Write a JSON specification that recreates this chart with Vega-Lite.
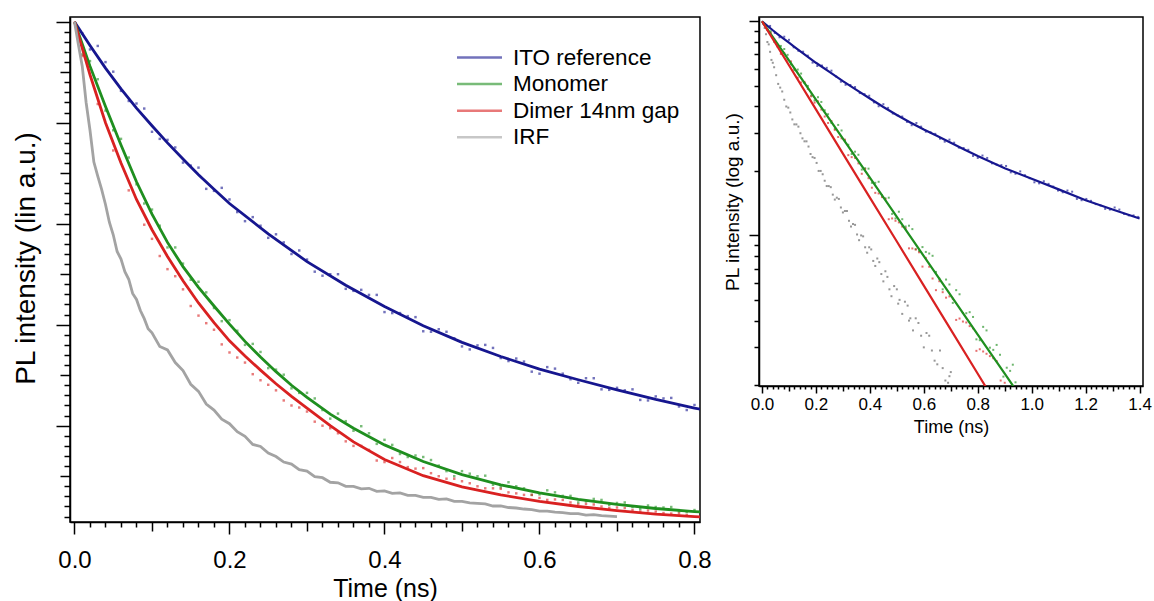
{
  "$schema": "https://vega.github.io/schema/vega-lite/v6.json",
  "padding": {"left": 11, "top": 16, "right": 5, "bottom": 0},
  "background": "white",
  "config": {
    "font": "Liberation Sans",
    "view": {"stroke": "#000", "strokeWidth": 1.5},
    "axis": {"domainColor": "#000", "domainWidth": 1.5, "tickColor": "#000", "tickWidth": 1.5, "labelColor": "#000", "titleColor": "#000", "grid": false, "labelFont": "Liberation Sans", "titleFont": "Liberation Sans", "titleFontWeight": "normal", "labelOverlap": false, "labelFlush": false, "labelBound": false}
  },
  "resolve": {"scale": {"color": "independent"}},
  "spacing": 10,
  "datasets": {
    "lin_fit": [
      {"series":"ITO reference","t":0,"y":1},{"series":"ITO reference","t":0.02,"y":0.953},{"series":"ITO reference","t":0.04,"y":0.908},{"series":"ITO reference","t":0.06,"y":0.867},{"series":"ITO reference","t":0.08,"y":0.829},{"series":"ITO reference","t":0.1,"y":0.794},{"series":"ITO reference","t":0.12,"y":0.76},{"series":"ITO reference","t":0.14,"y":0.728},{"series":"ITO reference","t":0.16,"y":0.697},{"series":"ITO reference","t":0.18,"y":0.668},{"series":"ITO reference","t":0.2,"y":0.64},{"series":"ITO reference","t":0.25,"y":0.58},{"series":"ITO reference","t":0.3,"y":0.525},{"series":"ITO reference","t":0.35,"y":0.478},{"series":"ITO reference","t":0.4,"y":0.436},{"series":"ITO reference","t":0.45,"y":0.398},{"series":"ITO reference","t":0.5,"y":0.365},{"series":"ITO reference","t":0.55,"y":0.337},{"series":"ITO reference","t":0.6,"y":0.312},{"series":"ITO reference","t":0.65,"y":0.291},{"series":"ITO reference","t":0.7,"y":0.271},{"series":"ITO reference","t":0.75,"y":0.252},{"series":"ITO reference","t":0.8,"y":0.235},{"series":"ITO reference","t":0.81,"y":0.232},
      {"series":"Monomer","t":0,"y":1},{"series":"Monomer","t":0.02,"y":0.912},{"series":"Monomer","t":0.04,"y":0.832},{"series":"Monomer","t":0.06,"y":0.756},{"series":"Monomer","t":0.08,"y":0.683},{"series":"Monomer","t":0.1,"y":0.619},{"series":"Monomer","t":0.12,"y":0.563},{"series":"Monomer","t":0.14,"y":0.515},{"series":"Monomer","t":0.16,"y":0.474},{"series":"Monomer","t":0.18,"y":0.437},{"series":"Monomer","t":0.2,"y":0.401},{"series":"Monomer","t":0.22,"y":0.367},{"series":"Monomer","t":0.24,"y":0.336},{"series":"Monomer","t":0.26,"y":0.307},{"series":"Monomer","t":0.28,"y":0.28},{"series":"Monomer","t":0.3,"y":0.256},{"series":"Monomer","t":0.33,"y":0.223},{"series":"Monomer","t":0.36,"y":0.195},{"series":"Monomer","t":0.4,"y":0.162},{"series":"Monomer","t":0.45,"y":0.129},{"series":"Monomer","t":0.5,"y":0.103},{"series":"Monomer","t":0.55,"y":0.083},{"series":"Monomer","t":0.6,"y":0.067},{"series":"Monomer","t":0.65,"y":0.054},{"series":"Monomer","t":0.7,"y":0.044},{"series":"Monomer","t":0.75,"y":0.036},{"series":"Monomer","t":0.8,"y":0.03},{"series":"Monomer","t":0.81,"y":0.029},
      {"series":"Dimer 14nm gap","t":0,"y":1},{"series":"Dimer 14nm gap","t":0.02,"y":0.895},{"series":"Dimer 14nm gap","t":0.04,"y":0.8},{"series":"Dimer 14nm gap","t":0.06,"y":0.72},{"series":"Dimer 14nm gap","t":0.08,"y":0.648},{"series":"Dimer 14nm gap","t":0.1,"y":0.588},{"series":"Dimer 14nm gap","t":0.12,"y":0.535},{"series":"Dimer 14nm gap","t":0.14,"y":0.487},{"series":"Dimer 14nm gap","t":0.16,"y":0.443},{"series":"Dimer 14nm gap","t":0.18,"y":0.404},{"series":"Dimer 14nm gap","t":0.2,"y":0.368},{"series":"Dimer 14nm gap","t":0.22,"y":0.338},{"series":"Dimer 14nm gap","t":0.24,"y":0.31},{"series":"Dimer 14nm gap","t":0.26,"y":0.283},{"series":"Dimer 14nm gap","t":0.28,"y":0.258},{"series":"Dimer 14nm gap","t":0.3,"y":0.235},{"series":"Dimer 14nm gap","t":0.33,"y":0.2},{"series":"Dimer 14nm gap","t":0.36,"y":0.168},{"series":"Dimer 14nm gap","t":0.4,"y":0.133},{"series":"Dimer 14nm gap","t":0.45,"y":0.101},{"series":"Dimer 14nm gap","t":0.5,"y":0.079},{"series":"Dimer 14nm gap","t":0.55,"y":0.063},{"series":"Dimer 14nm gap","t":0.6,"y":0.05},{"series":"Dimer 14nm gap","t":0.65,"y":0.04},{"series":"Dimer 14nm gap","t":0.7,"y":0.032},{"series":"Dimer 14nm gap","t":0.75,"y":0.025},{"series":"Dimer 14nm gap","t":0.8,"y":0.02},{"series":"Dimer 14nm gap","t":0.81,"y":0.019},
      {"series":"IRF","t":0,"y":1},{"series":"IRF","t":0.005,"y":0.955},{"series":"IRF","t":0.01,"y":0.912},{"series":"IRF","t":0.015,"y":0.84},{"series":"IRF","t":0.02,"y":0.785},{"series":"IRF","t":0.025,"y":0.722},{"series":"IRF","t":0.03,"y":0.694},{"series":"IRF","t":0.035,"y":0.668},{"series":"IRF","t":0.04,"y":0.638},{"series":"IRF","t":0.045,"y":0.603},{"series":"IRF","t":0.05,"y":0.578},{"series":"IRF","t":0.055,"y":0.545},{"series":"IRF","t":0.06,"y":0.53},{"series":"IRF","t":0.065,"y":0.505},{"series":"IRF","t":0.07,"y":0.49},{"series":"IRF","t":0.075,"y":0.462},{"series":"IRF","t":0.08,"y":0.45},{"series":"IRF","t":0.085,"y":0.428},{"series":"IRF","t":0.09,"y":0.412},{"series":"IRF","t":0.095,"y":0.392},{"series":"IRF","t":0.1,"y":0.384},{"series":"IRF","t":0.11,"y":0.357},{"series":"IRF","t":0.12,"y":0.35},{"series":"IRF","t":0.13,"y":0.325},{"series":"IRF","t":0.14,"y":0.309},{"series":"IRF","t":0.15,"y":0.282},{"series":"IRF","t":0.16,"y":0.268},{"series":"IRF","t":0.17,"y":0.243},{"series":"IRF","t":0.18,"y":0.231},{"series":"IRF","t":0.19,"y":0.213},{"series":"IRF","t":0.2,"y":0.204},{"series":"IRF","t":0.21,"y":0.188},{"series":"IRF","t":0.22,"y":0.179},{"series":"IRF","t":0.23,"y":0.163},{"series":"IRF","t":0.24,"y":0.159},{"series":"IRF","t":0.25,"y":0.146},{"series":"IRF","t":0.26,"y":0.139},{"series":"IRF","t":0.27,"y":0.128},{"series":"IRF","t":0.28,"y":0.124},{"series":"IRF","t":0.29,"y":0.113},{"series":"IRF","t":0.3,"y":0.11},{"series":"IRF","t":0.31,"y":0.099},{"series":"IRF","t":0.32,"y":0.097},{"series":"IRF","t":0.33,"y":0.088},{"series":"IRF","t":0.34,"y":0.087},{"series":"IRF","t":0.35,"y":0.08},{"series":"IRF","t":0.36,"y":0.08},{"series":"IRF","t":0.37,"y":0.075},{"series":"IRF","t":0.38,"y":0.076},{"series":"IRF","t":0.39,"y":0.07},{"series":"IRF","t":0.4,"y":0.071},{"series":"IRF","t":0.41,"y":0.066},{"series":"IRF","t":0.42,"y":0.067},{"series":"IRF","t":0.43,"y":0.062},{"series":"IRF","t":0.44,"y":0.062},{"series":"IRF","t":0.45,"y":0.058},{"series":"IRF","t":0.46,"y":0.058},{"series":"IRF","t":0.47,"y":0.054},{"series":"IRF","t":0.48,"y":0.055},{"series":"IRF","t":0.49,"y":0.05},{"series":"IRF","t":0.5,"y":0.05},{"series":"IRF","t":0.51,"y":0.047},{"series":"IRF","t":0.52,"y":0.046},{"series":"IRF","t":0.53,"y":0.045},{"series":"IRF","t":0.54,"y":0.041},{"series":"IRF","t":0.55,"y":0.041},{"series":"IRF","t":0.56,"y":0.038},{"series":"IRF","t":0.57,"y":0.037},{"series":"IRF","t":0.58,"y":0.035},{"series":"IRF","t":0.59,"y":0.034},{"series":"IRF","t":0.6,"y":0.031},{"series":"IRF","t":0.61,"y":0.031},{"series":"IRF","t":0.62,"y":0.029},{"series":"IRF","t":0.63,"y":0.028},{"series":"IRF","t":0.64,"y":0.026},{"series":"IRF","t":0.65,"y":0.026},{"series":"IRF","t":0.66,"y":0.023},{"series":"IRF","t":0.67,"y":0.024},{"series":"IRF","t":0.68,"y":0.022},{"series":"IRF","t":0.69,"y":0.021},{"series":"IRF","t":0.7,"y":0.02}
    ],
    "lin_data": [
      {"series":"ITO reference","t":0.01,"y":0.977},{"series":"ITO reference","t":0.03,"y":0.952},{"series":"ITO reference","t":0.05,"y":0.901},{"series":"ITO reference","t":0.07,"y":0.843},{"series":"ITO reference","t":0.09,"y":0.828},{"series":"ITO reference","t":0.11,"y":0.768},{"series":"ITO reference","t":0.13,"y":0.751},{"series":"ITO reference","t":0.15,"y":0.715},{"series":"ITO reference","t":0.17,"y":0.669},{"series":"ITO reference","t":0.19,"y":0.671},{"series":"ITO reference","t":0.21,"y":0.623},{"series":"ITO reference","t":0.23,"y":0.613},{"series":"ITO reference","t":0.25,"y":0.572},{"series":"ITO reference","t":0.27,"y":0.563},{"series":"ITO reference","t":0.29,"y":0.547},{"series":"ITO reference","t":0.31,"y":0.505},{"series":"ITO reference","t":0.33,"y":0.5},{"series":"ITO reference","t":0.35,"y":0.471},{"series":"ITO reference","t":0.37,"y":0.469},{"series":"ITO reference","t":0.39,"y":0.459},{"series":"ITO reference","t":0.41,"y":0.423},{"series":"ITO reference","t":0.43,"y":0.417},{"series":"ITO reference","t":0.45,"y":0.387},{"series":"ITO reference","t":0.47,"y":0.391},{"series":"ITO reference","t":0.49,"y":0.373},{"series":"ITO reference","t":0.51,"y":0.351},{"series":"ITO reference","t":0.53,"y":0.36},{"series":"ITO reference","t":0.55,"y":0.334},{"series":"ITO reference","t":0.57,"y":0.333},{"series":"ITO reference","t":0.59,"y":0.307},{"series":"ITO reference","t":0.61,"y":0.316},{"series":"ITO reference","t":0.63,"y":0.303},{"series":"ITO reference","t":0.65,"y":0.285},{"series":"ITO reference","t":0.67,"y":0.294},{"series":"ITO reference","t":0.69,"y":0.271},{"series":"ITO reference","t":0.71,"y":0.27},{"series":"ITO reference","t":0.73,"y":0.251},{"series":"ITO reference","t":0.75,"y":0.258},{"series":"ITO reference","t":0.77,"y":0.255},{"series":"ITO reference","t":0.79,"y":0.231},
      {"series":"ITO reference","t":0.02,"y":0.945},{"series":"ITO reference","t":0.04,"y":0.92},{"series":"ITO reference","t":0.06,"y":0.863},{"series":"ITO reference","t":0.08,"y":0.838},{"series":"ITO reference","t":0.1,"y":0.782},{"series":"ITO reference","t":0.12,"y":0.766},{"series":"ITO reference","t":0.14,"y":0.721},{"series":"ITO reference","t":0.16,"y":0.711},{"series":"ITO reference","t":0.18,"y":0.665},{"series":"ITO reference","t":0.2,"y":0.648},{"series":"ITO reference","t":0.22,"y":0.605},{"series":"ITO reference","t":0.24,"y":0.596},{"series":"ITO reference","t":0.26,"y":0.579},{"series":"ITO reference","t":0.28,"y":0.54},{"series":"ITO reference","t":0.3,"y":0.529},{"series":"ITO reference","t":0.32,"y":0.497},{"series":"ITO reference","t":0.34,"y":0.5},{"series":"ITO reference","t":0.36,"y":0.467},{"series":"ITO reference","t":0.38,"y":0.459},{"series":"ITO reference","t":0.4,"y":0.425},{"series":"ITO reference","t":0.42,"y":0.423},{"series":"ITO reference","t":0.44,"y":0.415},{"series":"ITO reference","t":0.46,"y":0.386},{"series":"ITO reference","t":0.48,"y":0.386},{"series":"ITO reference","t":0.5,"y":0.357},{"series":"ITO reference","t":0.52,"y":0.359},{"series":"ITO reference","t":0.54,"y":0.354},{"series":"ITO reference","t":0.56,"y":0.328},{"series":"ITO reference","t":0.58,"y":0.327},{"series":"ITO reference","t":0.6,"y":0.303},{"series":"ITO reference","t":0.62,"y":0.313},{"series":"ITO reference","t":0.64,"y":0.292},{"series":"ITO reference","t":0.66,"y":0.294},{"series":"ITO reference","t":0.68,"y":0.272},{"series":"ITO reference","t":0.7,"y":0.275},{"series":"ITO reference","t":0.72,"y":0.272},{"series":"ITO reference","t":0.74,"y":0.25},{"series":"ITO reference","t":0.76,"y":0.254},{"series":"ITO reference","t":0.78,"y":0.238},{"series":"ITO reference","t":0.8,"y":0.241},
      {"series":"Monomer","t":0.01,"y":0.935},{"series":"Monomer","t":0.03,"y":0.886},{"series":"Monomer","t":0.05,"y":0.785},{"series":"Monomer","t":0.07,"y":0.731},{"series":"Monomer","t":0.09,"y":0.64},{"series":"Monomer","t":0.11,"y":0.596},{"series":"Monomer","t":0.13,"y":0.553},{"series":"Monomer","t":0.15,"y":0.489},{"series":"Monomer","t":0.17,"y":0.464},{"series":"Monomer","t":0.19,"y":0.407},{"series":"Monomer","t":0.21,"y":0.388},{"series":"Monomer","t":0.23,"y":0.362},{"series":"Monomer","t":0.25,"y":0.314},{"series":"Monomer","t":0.27,"y":0.301},{"series":"Monomer","t":0.29,"y":0.265},{"series":"Monomer","t":0.31,"y":0.254},{"series":"Monomer","t":0.33,"y":0.214},{"series":"Monomer","t":0.35,"y":0.209},{"series":"Monomer","t":0.37,"y":0.199},{"series":"Monomer","t":0.39,"y":0.164},{"series":"Monomer","t":0.41,"y":0.162},{"series":"Monomer","t":0.43,"y":0.138},{"series":"Monomer","t":0.45,"y":0.138},{"series":"Monomer","t":0.47,"y":0.121},{"series":"Monomer","t":0.49,"y":0.1},{"series":"Monomer","t":0.51,"y":0.105},{"series":"Monomer","t":0.53,"y":0.101},{"series":"Monomer","t":0.55,"y":0.078},{"series":"Monomer","t":0.57,"y":0.08},{"series":"Monomer","t":0.59,"y":0.063},{"series":"Monomer","t":0.61,"y":0.072},{"series":"Monomer","t":0.63,"y":0.061},{"series":"Monomer","t":0.65,"y":0.048},{"series":"Monomer","t":0.67,"y":0.055},{"series":"Monomer","t":0.69,"y":0.043},{"series":"Monomer","t":0.71,"y":0.048},{"series":"Monomer","t":0.73,"y":0.035},{"series":"Monomer","t":0.75,"y":0.039},{"series":"Monomer","t":0.77,"y":0.039},{"series":"Monomer","t":0.79,"y":0.029},
      {"series":"Monomer","t":0.02,"y":0.922},{"series":"Monomer","t":0.04,"y":0.824},{"series":"Monomer","t":0.06,"y":0.768},{"series":"Monomer","t":0.08,"y":0.678},{"series":"Monomer","t":0.1,"y":0.628},{"series":"Monomer","t":0.12,"y":0.553},{"series":"Monomer","t":0.14,"y":0.521},{"series":"Monomer","t":0.16,"y":0.485},{"series":"Monomer","t":0.18,"y":0.433},{"series":"Monomer","t":0.2,"y":0.409},{"series":"Monomer","t":0.22,"y":0.36},{"series":"Monomer","t":0.24,"y":0.346},{"series":"Monomer","t":0.26,"y":0.311},{"series":"Monomer","t":0.28,"y":0.274},{"series":"Monomer","t":0.3,"y":0.265},{"series":"Monomer","t":0.32,"y":0.231},{"series":"Monomer","t":0.34,"y":0.224},{"series":"Monomer","t":0.36,"y":0.19},{"series":"Monomer","t":0.38,"y":0.185},{"series":"Monomer","t":0.4,"y":0.172},{"series":"Monomer","t":0.42,"y":0.144},{"series":"Monomer","t":0.44,"y":0.141},{"series":"Monomer","t":0.46,"y":0.132},{"series":"Monomer","t":0.48,"y":0.11},{"series":"Monomer","t":0.5,"y":0.11},{"series":"Monomer","t":0.52,"y":0.1},{"series":"Monomer","t":0.54,"y":0.083},{"series":"Monomer","t":0.56,"y":0.088},{"series":"Monomer","t":0.58,"y":0.076},{"series":"Monomer","t":0.6,"y":0.064},{"series":"Monomer","t":0.62,"y":0.068},{"series":"Monomer","t":0.64,"y":0.061},{"series":"Monomer","t":0.66,"y":0.05},{"series":"Monomer","t":0.68,"y":0.053},{"series":"Monomer","t":0.7,"y":0.047},{"series":"Monomer","t":0.72,"y":0.039},{"series":"Monomer","t":0.74,"y":0.042},{"series":"Monomer","t":0.76,"y":0.038},{"series":"Monomer","t":0.78,"y":0.03},{"series":"Monomer","t":0.8,"y":0.033},
      {"series":"Dimer 14nm gap","t":0.01,"y":0.932},{"series":"Dimer 14nm gap","t":0.03,"y":0.837},{"series":"Dimer 14nm gap","t":0.05,"y":0.745},{"series":"Dimer 14nm gap","t":0.07,"y":0.666},{"series":"Dimer 14nm gap","t":0.09,"y":0.598},{"series":"Dimer 14nm gap","t":0.11,"y":0.536},{"series":"Dimer 14nm gap","t":0.13,"y":0.496},{"series":"Dimer 14nm gap","t":0.15,"y":0.437},{"series":"Dimer 14nm gap","t":0.17,"y":0.403},{"series":"Dimer 14nm gap","t":0.19,"y":0.361},{"series":"Dimer 14nm gap","t":0.21,"y":0.335},{"series":"Dimer 14nm gap","t":0.23,"y":0.302},{"series":"Dimer 14nm gap","t":0.25,"y":0.281},{"series":"Dimer 14nm gap","t":0.27,"y":0.25},{"series":"Dimer 14nm gap","t":0.29,"y":0.236},{"series":"Dimer 14nm gap","t":0.31,"y":0.208},{"series":"Dimer 14nm gap","t":0.33,"y":0.195},{"series":"Dimer 14nm gap","t":0.35,"y":0.169},{"series":"Dimer 14nm gap","t":0.37,"y":0.16},{"series":"Dimer 14nm gap","t":0.39,"y":0.131},{"series":"Dimer 14nm gap","t":0.41,"y":0.136},{"series":"Dimer 14nm gap","t":0.43,"y":0.118},{"series":"Dimer 14nm gap","t":0.45,"y":0.116},{"series":"Dimer 14nm gap","t":0.47,"y":0.1},{"series":"Dimer 14nm gap","t":0.49,"y":0.095},{"series":"Dimer 14nm gap","t":0.51,"y":0.086},{"series":"Dimer 14nm gap","t":0.53,"y":0.076},{"series":"Dimer 14nm gap","t":0.55,"y":0.075},{"series":"Dimer 14nm gap","t":0.57,"y":0.066},{"series":"Dimer 14nm gap","t":0.59,"y":0.063},{"series":"Dimer 14nm gap","t":0.61,"y":0.053},{"series":"Dimer 14nm gap","t":0.63,"y":0.053},{"series":"Dimer 14nm gap","t":0.65,"y":0.044},{"series":"Dimer 14nm gap","t":0.67,"y":0.044},{"series":"Dimer 14nm gap","t":0.69,"y":0.037},{"series":"Dimer 14nm gap","t":0.71,"y":0.037},{"series":"Dimer 14nm gap","t":0.73,"y":0.03},{"series":"Dimer 14nm gap","t":0.75,"y":0.03},{"series":"Dimer 14nm gap","t":0.77,"y":0.026},{"series":"Dimer 14nm gap","t":0.79,"y":0.023},
      {"series":"Dimer 14nm gap","t":0.1,"y":0.57},{"series":"Dimer 14nm gap","t":0.12,"y":0.51},{"series":"Dimer 14nm gap","t":0.14,"y":0.47},{"series":"Dimer 14nm gap","t":0.16,"y":0.418},{"series":"Dimer 14nm gap","t":0.18,"y":0.39},{"series":"Dimer 14nm gap","t":0.2,"y":0.345},{"series":"Dimer 14nm gap","t":0.22,"y":0.325},{"series":"Dimer 14nm gap","t":0.24,"y":0.29},{"series":"Dimer 14nm gap","t":0.26,"y":0.27},{"series":"Dimer 14nm gap","t":0.28,"y":0.24},{"series":"Dimer 14nm gap","t":0.3,"y":0.228},{"series":"Dimer 14nm gap","t":0.32,"y":0.2},{"series":"Dimer 14nm gap","t":0.34,"y":0.185},{"series":"Dimer 14nm gap","t":0.36,"y":0.16},{"series":"Dimer 14nm gap","t":0.38,"y":0.152},{"series":"Dimer 14nm gap","t":0.4,"y":0.128},{"series":"Dimer 14nm gap","t":0.42,"y":0.128},{"series":"Dimer 14nm gap","t":0.44,"y":0.115},{"series":"Dimer 14nm gap","t":0.46,"y":0.106},{"series":"Dimer 14nm gap","t":0.48,"y":0.095},{"series":"Dimer 14nm gap","t":0.5,"y":0.09},{"series":"Dimer 14nm gap","t":0.52,"y":0.08},{"series":"Dimer 14nm gap","t":0.54,"y":0.076},{"series":"Dimer 14nm gap","t":0.56,"y":0.068},{"series":"Dimer 14nm gap","t":0.58,"y":0.063},{"series":"Dimer 14nm gap","t":0.6,"y":0.057},{"series":"Dimer 14nm gap","t":0.62,"y":0.054},{"series":"Dimer 14nm gap","t":0.64,"y":0.048},{"series":"Dimer 14nm gap","t":0.66,"y":0.045},{"series":"Dimer 14nm gap","t":0.68,"y":0.04},{"series":"Dimer 14nm gap","t":0.7,"y":0.038},{"series":"Dimer 14nm gap","t":0.72,"y":0.033},{"series":"Dimer 14nm gap","t":0.74,"y":0.032},{"series":"Dimer 14nm gap","t":0.76,"y":0.027},{"series":"Dimer 14nm gap","t":0.78,"y":0.026}
    ],
    "log_fit": [
      {"series":"ITO reference","t":0,"y":1},{"series":"ITO reference","t":0.02,"y":0.953},{"series":"ITO reference","t":0.04,"y":0.908},{"series":"ITO reference","t":0.06,"y":0.867},{"series":"ITO reference","t":0.08,"y":0.829},{"series":"ITO reference","t":0.1,"y":0.794},{"series":"ITO reference","t":0.12,"y":0.76},{"series":"ITO reference","t":0.14,"y":0.728},{"series":"ITO reference","t":0.16,"y":0.697},{"series":"ITO reference","t":0.18,"y":0.668},{"series":"ITO reference","t":0.2,"y":0.64},{"series":"ITO reference","t":0.25,"y":0.58},{"series":"ITO reference","t":0.3,"y":0.525},{"series":"ITO reference","t":0.35,"y":0.478},{"series":"ITO reference","t":0.4,"y":0.436},{"series":"ITO reference","t":0.45,"y":0.398},{"series":"ITO reference","t":0.5,"y":0.365},{"series":"ITO reference","t":0.55,"y":0.337},{"series":"ITO reference","t":0.6,"y":0.312},{"series":"ITO reference","t":0.65,"y":0.291},{"series":"ITO reference","t":0.7,"y":0.271},{"series":"ITO reference","t":0.75,"y":0.252},{"series":"ITO reference","t":0.8,"y":0.235},{"series":"ITO reference","t":0.9,"y":0.206},{"series":"ITO reference","t":1.0,"y":0.184},{"series":"ITO reference","t":1.1,"y":0.164},{"series":"ITO reference","t":1.2,"y":0.146},{"series":"ITO reference","t":1.3,"y":0.132},{"series":"ITO reference","t":1.4,"y":0.12},
      {"series":"Monomer","t":0,"y":1},{"series":"Monomer","t":0.1,"y":0.656},{"series":"Monomer","t":0.2,"y":0.431},{"series":"Monomer","t":0.3,"y":0.283},{"series":"Monomer","t":0.4,"y":0.186},{"series":"Monomer","t":0.5,"y":0.122},{"series":"Monomer","t":0.6,"y":0.08},{"series":"Monomer","t":0.7,"y":0.0525},{"series":"Monomer","t":0.8,"y":0.0344},{"series":"Monomer","t":0.9,"y":0.0226},{"series":"Monomer","t":0.95,"y":0.0183},
      {"series":"Dimer 14nm gap","t":0,"y":1},{"series":"Dimer 14nm gap","t":0.1,"y":0.623},{"series":"Dimer 14nm gap","t":0.2,"y":0.388},{"series":"Dimer 14nm gap","t":0.3,"y":0.241},{"series":"Dimer 14nm gap","t":0.4,"y":0.15},{"series":"Dimer 14nm gap","t":0.5,"y":0.0936},{"series":"Dimer 14nm gap","t":0.6,"y":0.0583},{"series":"Dimer 14nm gap","t":0.7,"y":0.0363},{"series":"Dimer 14nm gap","t":0.8,"y":0.0226},{"series":"Dimer 14nm gap","t":0.85,"y":0.0178}
    ],
    "log_data": [
      {"series":"ITO reference","t":0.03,"y":0.951},{"series":"ITO reference","t":0.065,"y":0.842},{"series":"ITO reference","t":0.1,"y":0.819},{"series":"ITO reference","t":0.135,"y":0.728},{"series":"ITO reference","t":0.17,"y":0.691},{"series":"ITO reference","t":0.205,"y":0.618},{"series":"ITO reference","t":0.24,"y":0.606},{"series":"ITO reference","t":0.275,"y":0.552},{"series":"ITO reference","t":0.31,"y":0.505},{"series":"ITO reference","t":0.345,"y":0.493},{"series":"ITO reference","t":0.38,"y":0.457},{"series":"ITO reference","t":0.415,"y":0.418},{"series":"ITO reference","t":0.45,"y":0.41},{"series":"ITO reference","t":0.485,"y":0.371},{"series":"ITO reference","t":0.52,"y":0.359},{"series":"ITO reference","t":0.555,"y":0.327},{"series":"ITO reference","t":0.59,"y":0.322},{"series":"ITO reference","t":0.625,"y":0.303},{"series":"ITO reference","t":0.66,"y":0.283},{"series":"ITO reference","t":0.695,"y":0.28},{"series":"ITO reference","t":0.73,"y":0.257},{"series":"ITO reference","t":0.765,"y":0.251},{"series":"ITO reference","t":0.8,"y":0.23},{"series":"ITO reference","t":0.835,"y":0.23},{"series":"ITO reference","t":0.87,"y":0.214},{"series":"ITO reference","t":0.905,"y":0.211},{"series":"ITO reference","t":0.94,"y":0.194},{"series":"ITO reference","t":0.975,"y":0.191},{"series":"ITO reference","t":1.01,"y":0.177},{"series":"ITO reference","t":1.045,"y":0.179},{"series":"ITO reference","t":1.08,"y":0.169},{"series":"ITO reference","t":1.115,"y":0.159},{"series":"ITO reference","t":1.15,"y":0.16},{"series":"ITO reference","t":1.185,"y":0.146},{"series":"ITO reference","t":1.22,"y":0.145},{"series":"ITO reference","t":1.255,"y":0.138},{"series":"ITO reference","t":1.29,"y":0.132},{"series":"ITO reference","t":1.325,"y":0.132},{"series":"ITO reference","t":1.36,"y":0.124},{"series":"ITO reference","t":1.395,"y":0.122},
      {"series":"ITO reference","t":0.0475,"y":0.882},{"series":"ITO reference","t":0.0825,"y":0.847},{"series":"ITO reference","t":0.1175,"y":0.756},{"series":"ITO reference","t":0.1525,"y":0.721},{"series":"ITO reference","t":0.1875,"y":0.641},{"series":"ITO reference","t":0.2225,"y":0.621},{"series":"ITO reference","t":0.2575,"y":0.588},{"series":"ITO reference","t":0.2925,"y":0.522},{"series":"ITO reference","t":0.3275,"y":0.504},{"series":"ITO reference","t":0.3625,"y":0.462},{"series":"ITO reference","t":0.3975,"y":0.449},{"series":"ITO reference","t":0.4325,"y":0.401},{"series":"ITO reference","t":0.4675,"y":0.394},{"series":"ITO reference","t":0.5025,"y":0.364},{"series":"ITO reference","t":0.5375,"y":0.339},{"series":"ITO reference","t":0.5725,"y":0.335},{"series":"ITO reference","t":0.6075,"y":0.305},{"series":"ITO reference","t":0.6425,"y":0.298},{"series":"ITO reference","t":0.6775,"y":0.274},{"series":"ITO reference","t":0.7125,"y":0.271},{"series":"ITO reference","t":0.7475,"y":0.256},{"series":"ITO reference","t":0.7825,"y":0.235},{"series":"ITO reference","t":0.8175,"y":0.236},{"series":"ITO reference","t":0.8525,"y":0.217},{"series":"ITO reference","t":0.8875,"y":0.213},{"series":"ITO reference","t":0.9225,"y":0.197},{"series":"ITO reference","t":0.9575,"y":0.199},{"series":"ITO reference","t":0.9925,"y":0.185},{"series":"ITO reference","t":1.0275,"y":0.175},{"series":"ITO reference","t":1.0625,"y":0.174},{"series":"ITO reference","t":1.0975,"y":0.162},{"series":"ITO reference","t":1.1325,"y":0.162},{"series":"ITO reference","t":1.1675,"y":0.148},{"series":"ITO reference","t":1.2025,"y":0.148},{"series":"ITO reference","t":1.2375,"y":0.14},{"series":"ITO reference","t":1.2725,"y":0.133},{"series":"ITO reference","t":1.3075,"y":0.135},{"series":"ITO reference","t":1.3425,"y":0.126},{"series":"ITO reference","t":1.3775,"y":0.124},
      {"series":"Monomer","t":0.02,"y":0.919},{"series":"Monomer","t":0.045,"y":0.802},{"series":"Monomer","t":0.07,"y":0.767},{"series":"Monomer","t":0.095,"y":0.697},{"series":"Monomer","t":0.12,"y":0.591},{"series":"Monomer","t":0.145,"y":0.57},{"series":"Monomer","t":0.17,"y":0.499},{"series":"Monomer","t":0.195,"y":0.427},{"series":"Monomer","t":0.22,"y":0.42},{"series":"Monomer","t":0.245,"y":0.368},{"series":"Monomer","t":0.27,"y":0.315},{"series":"Monomer","t":0.295,"y":0.309},{"series":"Monomer","t":0.32,"y":0.265},{"series":"Monomer","t":0.345,"y":0.246},{"series":"Monomer","t":0.37,"y":0.203},{"series":"Monomer","t":0.395,"y":0.205},{"series":"Monomer","t":0.42,"y":0.176},{"series":"Monomer","t":0.445,"y":0.154},{"series":"Monomer","t":0.47,"y":0.15},{"series":"Monomer","t":0.495,"y":0.12},{"series":"Monomer","t":0.52,"y":0.119},{"series":"Monomer","t":0.545,"y":0.111},{"series":"Monomer","t":0.57,"y":0.0862},{"series":"Monomer","t":0.595,"y":0.0882},{"series":"Monomer","t":0.62,"y":0.0823},{"series":"Monomer","t":0.645,"y":0.0675},{"series":"Monomer","t":0.67,"y":0.056},{"series":"Monomer","t":0.695,"y":0.059},{"series":"Monomer","t":0.72,"y":0.0555},{"series":"Monomer","t":0.745,"y":0.0434},{"series":"Monomer","t":0.77,"y":0.0438},{"series":"Monomer","t":0.795,"y":0.0327},{"series":"Monomer","t":0.82,"y":0.0374},{"series":"Monomer","t":0.845,"y":0.0299},{"series":"Monomer","t":0.87,"y":0.0308},{"series":"Monomer","t":0.895,"y":0.0219},{"series":"Monomer","t":0.92,"y":0.0233},{"series":"Monomer","t":0.94,"y":0.0206},
      {"series":"Monomer","t":0.0325,"y":0.898},{"series":"Monomer","t":0.0575,"y":0.769},{"series":"Monomer","t":0.0825,"y":0.742},{"series":"Monomer","t":0.1075,"y":0.63},{"series":"Monomer","t":0.1325,"y":0.595},{"series":"Monomer","t":0.1575,"y":0.515},{"series":"Monomer","t":0.1825,"y":0.45},{"series":"Monomer","t":0.2075,"y":0.442},{"series":"Monomer","t":0.2325,"y":0.384},{"series":"Monomer","t":0.2575,"y":0.335},{"series":"Monomer","t":0.2825,"y":0.328},{"series":"Monomer","t":0.3075,"y":0.277},{"series":"Monomer","t":0.3325,"y":0.24},{"series":"Monomer","t":0.3575,"y":0.238},{"series":"Monomer","t":0.3825,"y":0.206},{"series":"Monomer","t":0.4075,"y":0.176},{"series":"Monomer","t":0.4325,"y":0.178},{"series":"Monomer","t":0.4575,"y":0.149},{"series":"Monomer","t":0.4825,"y":0.126},{"series":"Monomer","t":0.5075,"y":0.129},{"series":"Monomer","t":0.5325,"y":0.11},{"series":"Monomer","t":0.5575,"y":0.107},{"series":"Monomer","t":0.5825,"y":0.0844},{"series":"Monomer","t":0.6075,"y":0.0837},{"series":"Monomer","t":0.6325,"y":0.0803},{"series":"Monomer","t":0.6575,"y":0.0628},{"series":"Monomer","t":0.6825,"y":0.0622},{"series":"Monomer","t":0.7075,"y":0.0484},{"series":"Monomer","t":0.7325,"y":0.0531},{"series":"Monomer","t":0.7575,"y":0.0433},{"series":"Monomer","t":0.7825,"y":0.0416},{"series":"Monomer","t":0.8075,"y":0.0324},{"series":"Monomer","t":0.8325,"y":0.036},{"series":"Monomer","t":0.8575,"y":0.0292},{"series":"Monomer","t":0.8825,"y":0.0277},{"series":"Monomer","t":0.9075,"y":0.0241},{"series":"Monomer","t":0.93,"y":0.0249},
      {"series":"Dimer 14nm gap","t":0.02,"y":0.91},{"series":"Dimer 14nm gap","t":0.045,"y":0.824},{"series":"Dimer 14nm gap","t":0.07,"y":0.704},{"series":"Dimer 14nm gap","t":0.095,"y":0.662},{"series":"Dimer 14nm gap","t":0.12,"y":0.6},{"series":"Dimer 14nm gap","t":0.145,"y":0.518},{"series":"Dimer 14nm gap","t":0.17,"y":0.483},{"series":"Dimer 14nm gap","t":0.195,"y":0.417},{"series":"Dimer 14nm gap","t":0.22,"y":0.387},{"series":"Dimer 14nm gap","t":0.245,"y":0.335},{"series":"Dimer 14nm gap","t":0.27,"y":0.311},{"series":"Dimer 14nm gap","t":0.295,"y":0.284},{"series":"Dimer 14nm gap","t":0.32,"y":0.237},{"series":"Dimer 14nm gap","t":0.345,"y":0.23},{"series":"Dimer 14nm gap","t":0.37,"y":0.194},{"series":"Dimer 14nm gap","t":0.395,"y":0.185},{"series":"Dimer 14nm gap","t":0.42,"y":0.158},{"series":"Dimer 14nm gap","t":0.445,"y":0.151},{"series":"Dimer 14nm gap","t":0.47,"y":0.119},{"series":"Dimer 14nm gap","t":0.495,"y":0.117},{"series":"Dimer 14nm gap","t":0.52,"y":0.11},{"series":"Dimer 14nm gap","t":0.545,"y":0.087},{"series":"Dimer 14nm gap","t":0.57,"y":0.0859},{"series":"Dimer 14nm gap","t":0.595,"y":0.0715},{"series":"Dimer 14nm gap","t":0.62,"y":0.0714},{"series":"Dimer 14nm gap","t":0.645,"y":0.0555},{"series":"Dimer 14nm gap","t":0.67,"y":0.0543},{"series":"Dimer 14nm gap","t":0.695,"y":0.0519},{"series":"Dimer 14nm gap","t":0.72,"y":0.0403},{"series":"Dimer 14nm gap","t":0.745,"y":0.0396},{"series":"Dimer 14nm gap","t":0.77,"y":0.0377},{"series":"Dimer 14nm gap","t":0.795,"y":0.0289},{"series":"Dimer 14nm gap","t":0.82,"y":0.0287},{"series":"Dimer 14nm gap","t":0.845,"y":0.0273},{"series":"Dimer 14nm gap","t":0.87,"y":0.0259},{"series":"Dimer 14nm gap","t":0.885,"y":0.021},{"series":"Dimer 14nm gap","t":0.9,"y":0.0205},
      {"series":"Dimer 14nm gap","t":0.0325,"y":0.883},{"series":"Dimer 14nm gap","t":0.0575,"y":0.761},{"series":"Dimer 14nm gap","t":0.0825,"y":0.71},{"series":"Dimer 14nm gap","t":0.1075,"y":0.649},{"series":"Dimer 14nm gap","t":0.1325,"y":0.545},{"series":"Dimer 14nm gap","t":0.1575,"y":0.521},{"series":"Dimer 14nm gap","t":0.1825,"y":0.446},{"series":"Dimer 14nm gap","t":0.2075,"y":0.423},{"series":"Dimer 14nm gap","t":0.2325,"y":0.359},{"series":"Dimer 14nm gap","t":0.2575,"y":0.342},{"series":"Dimer 14nm gap","t":0.2825,"y":0.288},{"series":"Dimer 14nm gap","t":0.3075,"y":0.28},{"series":"Dimer 14nm gap","t":0.3325,"y":0.232},{"series":"Dimer 14nm gap","t":0.3575,"y":0.217},{"series":"Dimer 14nm gap","t":0.3825,"y":0.204},{"series":"Dimer 14nm gap","t":0.4075,"y":0.167},{"series":"Dimer 14nm gap","t":0.4325,"y":0.157},{"series":"Dimer 14nm gap","t":0.4575,"y":0.148},{"series":"Dimer 14nm gap","t":0.4825,"y":0.12},{"series":"Dimer 14nm gap","t":0.5075,"y":0.115},{"series":"Dimer 14nm gap","t":0.5325,"y":0.108},{"series":"Dimer 14nm gap","t":0.5575,"y":0.0869},{"series":"Dimer 14nm gap","t":0.5825,"y":0.0834},{"series":"Dimer 14nm gap","t":0.6075,"y":0.0785},{"series":"Dimer 14nm gap","t":0.6325,"y":0.0629},{"series":"Dimer 14nm gap","t":0.6575,"y":0.0611},{"series":"Dimer 14nm gap","t":0.6825,"y":0.0512},{"series":"Dimer 14nm gap","t":0.7075,"y":0.0506},{"series":"Dimer 14nm gap","t":0.7325,"y":0.0409},{"series":"Dimer 14nm gap","t":0.7575,"y":0.0392},{"series":"Dimer 14nm gap","t":0.7825,"y":0.0368},{"series":"Dimer 14nm gap","t":0.8075,"y":0.0294},{"series":"Dimer 14nm gap","t":0.8325,"y":0.028},{"series":"Dimer 14nm gap","t":0.8575,"y":0.0267},
      {"series":"IRF","t":0.005,"y":0.97},{"series":"IRF","t":0.015,"y":0.87},{"series":"IRF","t":0.025,"y":0.78},{"series":"IRF","t":0.035,"y":0.66},{"series":"IRF","t":0.045,"y":0.61},{"series":"IRF","t":0.06,"y":0.51},{"series":"IRF","t":0.075,"y":0.47},{"series":"IRF","t":0.09,"y":0.4},{"series":"IRF","t":0.105,"y":0.375},{"series":"IRF","t":0.12,"y":0.33},{"series":"IRF","t":0.135,"y":0.322},{"series":"IRF","t":0.15,"y":0.284},{"series":"IRF","t":0.165,"y":0.275},{"series":"IRF","t":0.18,"y":0.24},{"series":"IRF","t":0.195,"y":0.23},{"series":"IRF","t":0.21,"y":0.2},{"series":"IRF","t":0.225,"y":0.193},{"series":"IRF","t":0.24,"y":0.17},{"series":"IRF","t":0.255,"y":0.168},{"series":"IRF","t":0.27,"y":0.147},{"series":"IRF","t":0.285,"y":0.148},{"series":"IRF","t":0.3,"y":0.128},{"series":"IRF","t":0.315,"y":0.13},{"series":"IRF","t":0.33,"y":0.11},{"series":"IRF","t":0.345,"y":0.112},{"series":"IRF","t":0.36,"y":0.095},{"series":"IRF","t":0.375,"y":0.099},{"series":"IRF","t":0.39,"y":0.083},{"series":"IRF","t":0.405,"y":0.086},{"series":"IRF","t":0.42,"y":0.072},{"series":"IRF","t":0.435,"y":0.075},{"series":"IRF","t":0.45,"y":0.061},{"series":"IRF","t":0.465,"y":0.064},{"series":"IRF","t":0.48,"y":0.052},{"series":"IRF","t":0.5,"y":0.056},{"series":"IRF","t":0.51,"y":0.05},{"series":"IRF","t":0.52,"y":0.043},{"series":"IRF","t":0.54,"y":0.047},{"series":"IRF","t":0.55,"y":0.041},{"series":"IRF","t":0.56,"y":0.036},{"series":"IRF","t":0.58,"y":0.039},{"series":"IRF","t":0.6,"y":0.03},{"series":"IRF","t":0.62,"y":0.034},{"series":"IRF","t":0.64,"y":0.026},{"series":"IRF","t":0.65,"y":0.025},{"series":"IRF","t":0.66,"y":0.029},{"series":"IRF","t":0.68,"y":0.021},{"series":"IRF","t":0.69,"y":0.0205},{"series":"IRF","t":0.7,"y":0.023},
      {"series":"IRF","t":0.01,"y":0.93},{"series":"IRF","t":0.02,"y":0.8},{"series":"IRF","t":0.03,"y":0.72},{"series":"IRF","t":0.04,"y":0.64},{"series":"IRF","t":0.0525,"y":0.56},{"series":"IRF","t":0.0675,"y":0.49},{"series":"IRF","t":0.0825,"y":0.43},{"series":"IRF","t":0.0975,"y":0.395},{"series":"IRF","t":0.1125,"y":0.348},{"series":"IRF","t":0.1275,"y":0.33},{"series":"IRF","t":0.1425,"y":0.3},{"series":"IRF","t":0.1575,"y":0.275},{"series":"IRF","t":0.1725,"y":0.26},{"series":"IRF","t":0.1875,"y":0.232},{"series":"IRF","t":0.2025,"y":0.218},{"series":"IRF","t":0.2175,"y":0.2},{"series":"IRF","t":0.2325,"y":0.18},{"series":"IRF","t":0.2475,"y":0.17},{"series":"IRF","t":0.2625,"y":0.155},{"series":"IRF","t":0.2775,"y":0.15},{"series":"IRF","t":0.2925,"y":0.135},{"series":"IRF","t":0.3075,"y":0.13},{"series":"IRF","t":0.3225,"y":0.117},{"series":"IRF","t":0.3375,"y":0.113},{"series":"IRF","t":0.3525,"y":0.101},{"series":"IRF","t":0.3675,"y":0.1},{"series":"IRF","t":0.3825,"y":0.088},{"series":"IRF","t":0.3975,"y":0.088},{"series":"IRF","t":0.4125,"y":0.076},{"series":"IRF","t":0.4275,"y":0.078},{"series":"IRF","t":0.4425,"y":0.066},{"series":"IRF","t":0.4575,"y":0.068},{"series":"IRF","t":0.4725,"y":0.056},{"series":"IRF","t":0.49,"y":0.058},{"series":"IRF","t":0.505,"y":0.048},{"series":"IRF","t":0.53,"y":0.049},{"series":"IRF","t":0.545,"y":0.04},{"series":"IRF","t":0.57,"y":0.041},{"series":"IRF","t":0.59,"y":0.034},{"series":"IRF","t":0.61,"y":0.035},{"series":"IRF","t":0.63,"y":0.029},{"series":"IRF","t":0.67,"y":0.024},{"series":"IRF","t":0.695,"y":0.022}
    ]
  },
  "hconcat": [
    {
      "width": 630,
      "height": 505,
      "encoding": {
        "x": {"field": "t", "type": "quantitative", "scale": {"domain": [-0.0058, 0.8071], "nice": false, "zero": false},
          "axis": {"title": "Time (ns)", "titleFontSize": 25, "labelFontSize": 24, "labelPadding": 14, "titlePadding": 4,
            "values": [0,0.02,0.04,0.06,0.08,0.1,0.12,0.14,0.16,0.18,0.2,0.22,0.24,0.26,0.28,0.3,0.32,0.34,0.36,0.38,0.4,0.42,0.44,0.46,0.48,0.5,0.52,0.54,0.56,0.58,0.6,0.62,0.64,0.66,0.68,0.7,0.72,0.74,0.76,0.78,0.8],
            "labelExpr": "abs(datum.value*5-round(datum.value*5))<0.001 ? format(datum.value,'.1f') : ''",
            "tickSize": {"condition": [{"test": "abs(datum.value*5-round(datum.value*5))<0.001", "value": 12}, {"test": "abs(datum.value*10-round(datum.value*10))<0.001", "value": 9}], "value": 5}}},
        "y": {"field": "y", "type": "quantitative", "scale": {"domain": [0.0093, 1.0093], "nice": false, "zero": false},
          "axis": {"title": "PL intensity (lin a.u.)", "titleFontSize": 28, "labels": false, "titlePadding": 15, "titleY": 241,
            "values": [0.02,0.04,0.06,0.08,0.1,0.12,0.14,0.16,0.18,0.2,0.22,0.24,0.26,0.28,0.3,0.32,0.34,0.36,0.38,0.4,0.42,0.44,0.46,0.48,0.5,0.52,0.54,0.56,0.58,0.6,0.62,0.64,0.66,0.68,0.7,0.72,0.74,0.76,0.78,0.8,0.82,0.84,0.86,0.88,0.9,0.92,0.94,0.96,0.98,1],
            "tickSize": {"condition": [{"test": "abs(datum.value*5-round(datum.value*5))<0.001", "value": 14}, {"test": "abs(datum.value*10-round(datum.value*10))<0.001", "value": 10}], "value": 6}}},
        "color": {"field": "series", "type": "nominal",
          "scale": {"domain": ["ITO reference", "Monomer", "Dimer 14nm gap", "IRF"], "range": ["#16168f", "#1f8f1f", "#d92121", "#a3a3a3"]},
          "legend": {"orient": "none", "legendX": 397, "legendY": 28, "title": null, "symbolType": "M-2,0H2", "symbolSize": 506, "symbolStrokeWidth": 2.5, "labelFontSize": 22.5, "labelLimit": 400, "labelFont": "Liberation Sans", "labelColor": "#000", "rowPadding": 2.6, "labelOffset": 21, "padding": 0}}
      },
      "layer": [
        {"data": {"name": "lin_data"}, "mark": {"type": "point", "filled": true, "shape": "square", "size": 6, "opacity": 0.6, "clip": true}},
        {"data": {"name": "lin_fit"}, "mark": {"type": "line", "strokeWidth": 2.8, "clip": true}}
      ]
    },
    {
      "width": 384,
      "height": 369,
      "encoding": {
        "x": {"field": "t", "type": "quantitative", "scale": {"domain": [-0.0111, 1.4127], "nice": false, "zero": false},
          "axis": {"title": "Time (ns)", "titleFontSize": 18, "labelFontSize": 17, "labelPadding": 3, "titlePadding": 6,
            "values": [0,0.02,0.04,0.06,0.08,0.1,0.12,0.14,0.16,0.18,0.2,0.22,0.24,0.26,0.28,0.3,0.32,0.34,0.36,0.38,0.4,0.42,0.44,0.46,0.48,0.5,0.52,0.54,0.56,0.58,0.6,0.62,0.64,0.66,0.68,0.7,0.72,0.74,0.76,0.78,0.8,0.82,0.84,0.86,0.88,0.9,0.92,0.94,0.96,0.98,1,1.02,1.04,1.06,1.08,1.1,1.12,1.14,1.16,1.18,1.2,1.22,1.24,1.26,1.28,1.3,1.32,1.34,1.36,1.38,1.4],
            "labelExpr": "abs(datum.value*5-round(datum.value*5))<0.001 ? format(datum.value,'.1f') : ''",
            "tickSize": {"condition": [{"test": "abs(datum.value*5-round(datum.value*5))<0.001", "value": 7}, {"test": "abs(datum.value*10-round(datum.value*10))<0.001", "value": 5}], "value": 3}}},
        "y": {"field": "y", "type": "quantitative", "scale": {"type": "log", "domain": [0.0198, 1.047], "nice": false},
          "axis": {"title": "PL intensity (log a.u.)", "titleFontSize": 19, "labels": false, "titlePadding": 6,
            "values": [1,0.9,0.8,0.7,0.6,0.5,0.4,0.3,0.2,0.1,0.09,0.08,0.07,0.06,0.05,0.04,0.03,0.02],
            "tickSize": {"condition": {"test": "abs(log(datum.value)/LN10-round(log(datum.value)/LN10))<0.001", "value": 10}, "value": 5}}},
        "color": {"field": "series", "type": "nominal",
          "scale": {"domain": ["ITO reference", "Monomer", "Dimer 14nm gap", "IRF"], "range": ["#16168f", "#1f8f1f", "#d92121", "#5f5f5f"]},
          "legend": null}
      },
      "layer": [
        {"data": {"name": "log_data"}, "mark": {"type": "point", "filled": true, "shape": "square", "size": 4, "opacity": 0.65, "clip": true}},
        {"data": {"name": "log_fit"}, "mark": {"type": "line", "strokeWidth": 2.2, "clip": true}}
      ]
    }
  ]
}
